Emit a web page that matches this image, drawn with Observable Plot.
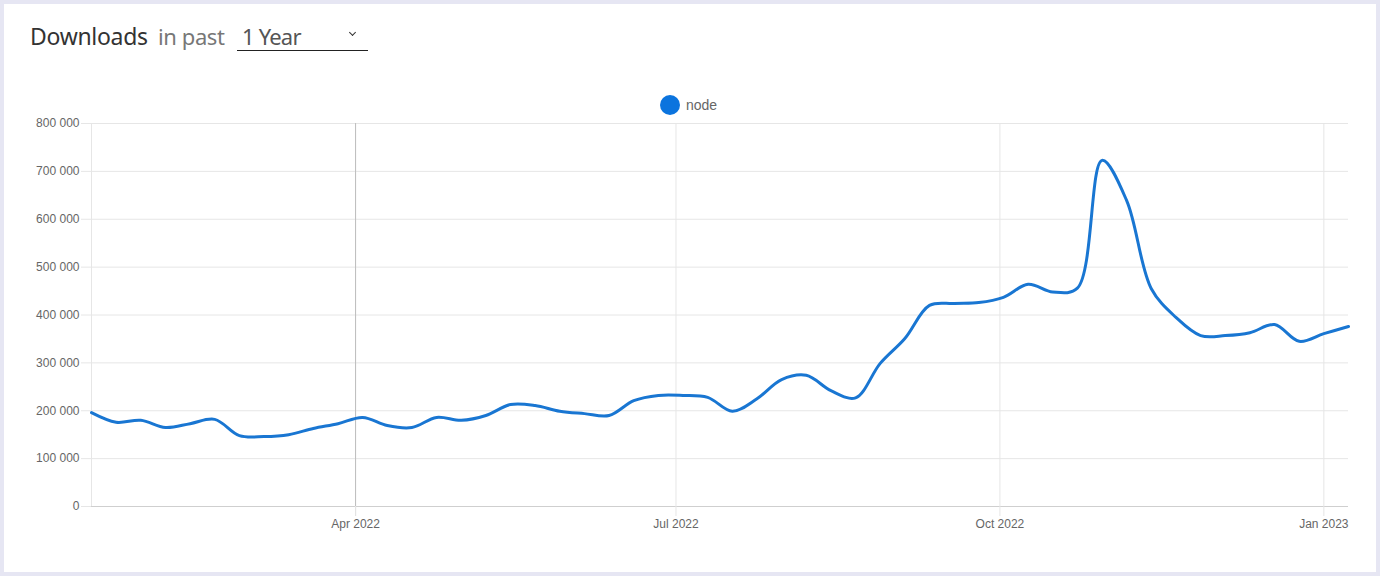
<!DOCTYPE html>
<html>
<head>
<meta charset="utf-8">
<script src="https://cdn.jsdelivr.net/npm/d3@7"></script>
<script src="https://cdn.jsdelivr.net/npm/@observablehq/plot@0.6"></script>
<style>
  html, body { margin: 0; padding: 0; }
  body { width: 1380px; height: 576px; background: #e6e6f3; position: relative; overflow: hidden; font-family: "Noto Sans", "Open Sans", sans-serif; }
  #card { position: absolute; left: 4px; top: 4px; width: 1372px; height: 568px; background: #fff; }
  .t { position: absolute; line-height: 24px; white-space: nowrap; }
  #dl { left: 30px; top: 24px; color: #333; font-size: 23px; letter-spacing: -0.3px; }
  #inpast { left: 158px; top: 24px; color: #777; font-size: 22px; letter-spacing: -0.4px; }
  #sel { position: absolute; left: 237px; top: 20px; width: 131px; height: 30px; border-bottom: 1px solid #222; }
  #selTxt { left: 5px; top: 4px; color: #555; font-size: 22px; letter-spacing: -0.8px; }
  #chev { position: absolute; left: 113px; top: 10px; width: 4px; height: 4px; border-right: 1.5px solid #333; border-bottom: 1.5px solid #333; transform: rotate(45deg); }
  #legend { position: absolute; left: 660px; top: 95px; height: 20px; display: flex; align-items: center; font-family: "Liberation Sans", Arial, sans-serif; font-size: 14px; color: #666; }
  #legend .dot { width: 20px; height: 20px; border-radius: 50%; margin-right: 6px; }
  #chart { position: absolute; left: 0; top: 90px; }
</style>
</head>
<body>
<div id="card"></div>
<div class="t" id="dl">Downloads</div>
<div class="t" id="inpast">in past</div>
<div id="sel"><div class="t" id="selTxt">1 Year</div><div id="chev"></div></div>
<div id="legend"></div>
<div id="chart"></div>
<script>
// Weekly download counts for package "node"
const seriesName = "node";
const weeks = [
  "2022-01-16","2022-01-23","2022-01-30","2022-02-06","2022-02-13","2022-02-20","2022-02-27",
  "2022-03-06","2022-03-13","2022-03-20","2022-03-27","2022-04-03","2022-04-10","2022-04-17",
  "2022-04-24","2022-05-01","2022-05-08","2022-05-15","2022-05-22","2022-05-29","2022-06-05",
  "2022-06-12","2022-06-19","2022-06-26","2022-07-03","2022-07-10","2022-07-17","2022-07-24",
  "2022-07-31","2022-08-07","2022-08-14","2022-08-21","2022-08-28","2022-09-04","2022-09-11",
  "2022-09-18","2022-09-25","2022-10-02","2022-10-09","2022-10-16","2022-10-23","2022-10-30",
  "2022-11-06","2022-11-13","2022-11-20","2022-11-27","2022-12-04","2022-12-11","2022-12-18",
  "2022-12-25","2023-01-01","2023-01-08"
];
const downloads = [
  196000, 176000, 180000, 165000, 173000, 182000, 148000,
  146000, 150000, 163000, 173000, 186000, 169000, 165000,
  186000, 180000, 190000, 213000, 211000, 199000, 194000,
  190000, 221000, 232000, 232000, 228000, 199000, 225000,
  265000, 274000, 242000, 227000, 299000, 351000, 420000,
  424000, 426000, 437000, 464000, 448000, 456000, 723000,
  639000, 455000, 395000, 357000, 357000, 363000, 380000,
  345000, 361000, 376000
];
const yTicks = [0, 100000, 200000, 300000, 400000, 500000, 600000, 700000, 800000];
const xTicks = ["2022-04-01", "2022-07-01", "2022-10-01", "2023-01-01"];
const highlightedTick = "2022-04-01";
const lineColor = "#1976d2";

const data = weeks.map((w, i) => ({date: new Date(w), value: downloads[i]}));
const xTickDates = xTicks.map(d => new Date(d));
const fmtY = v => d3.format(",")(v).replace(/,/g, " ");
const fmtX = d3.utcFormat("%b %Y");

const legend = document.getElementById("legend");
legend.innerHTML = `<span class="dot" style="background:${"#0b74de"}"></span><span>${seriesName}</span>`;

const chart = Plot.plot({
  width: 1380,
  height: 470,
  marginLeft: 91,
  marginRight: 32,
  marginTop: 33,
  marginBottom: 54,
  style: {fontFamily: "'Liberation Sans', Arial, sans-serif", fontSize: "12px", color: "#666", background: "transparent", overflow: "visible"},
  x: {type: "utc", domain: [data[0].date, data[data.length - 1].date]},
  y: {domain: [0, 800000]},
  marks: [
    Plot.gridY(yTicks, {stroke: "#e6e6e6", strokeOpacity: 1}),
    Plot.gridX(xTickDates, {stroke: "#e6e6e6", strokeOpacity: 1}),
    Plot.ruleX([data[0].date], {stroke: "#e6e6e6"}),
    Plot.ruleX([new Date(highlightedTick)], {stroke: "#bdbdbd", insetBottom: -10}),
    Plot.ruleY([0], {stroke: "#cfcfcf"}),
    Plot.axisY(yTicks, {tickSize: 10, tickPadding: 2, stroke: "#e6e6e6", fill: "#666", tickFormat: fmtY, label: null}),
    Plot.axisX(xTickDates, {tickSize: 10, tickPadding: 3, stroke: "#e6e6e6", fill: "#666", tickFormat: fmtX, label: null}),
    Plot.line(data, {x: "date", y: "value", stroke: lineColor, strokeWidth: 3, curve: "catmull-rom"})
  ]
});
document.getElementById("chart").appendChild(chart);
</script>
</body>
</html>
